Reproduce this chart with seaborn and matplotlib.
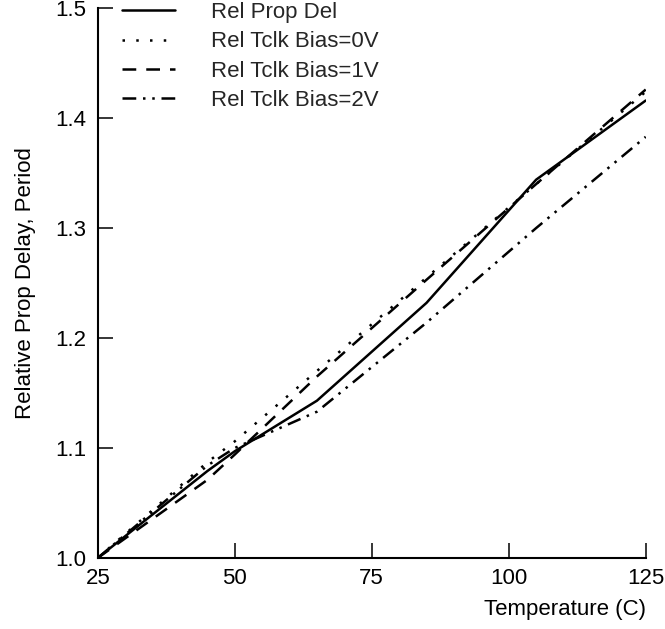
import matplotlib
matplotlib.use("Agg")
import matplotlib.pyplot as plt
import seaborn as sns
import pandas as pd

# Temperature sweep (C)
temperature = [25, 45, 50, 65, 85, 105, 125]

# Relative delay / period values, normalised to 25 C
rel_prop_del = [1.000, 1.079, 1.097, 1.143, 1.232, 1.344, 1.416]
rel_tclk_bias0 = [1.000, 1.087, 1.106, 1.170, 1.255, 1.340, 1.424]
rel_tclk_bias1 = [1.000, 1.071, 1.094, 1.165, 1.253, 1.340, 1.426]
rel_tclk_bias2 = [1.000, 1.084, 1.100, 1.133, 1.214, 1.300, 1.383]

series_names = ["Rel Prop Del", "Rel Tclk Bias=0V", "Rel Tclk Bias=1V", "Rel Tclk Bias=2V"]
series_values = [rel_prop_del, rel_tclk_bias0, rel_tclk_bias1, rel_tclk_bias2]

x_ticks = [25, 50, 75, 100, 125]
y_ticks = [1.0, 1.1, 1.2, 1.3, 1.4, 1.5]

sns.set_theme(style="white")
plt.rcParams["font.family"] = ["Liberation Sans", "DejaVu Sans"]

FS = 16
LW = 1.8

fig = plt.figure(figsize=(6.65, 6.29), dpi=100)
ax = fig.add_axes([0.147, 0.113, 0.824, 0.874])

styles = ["-", (0, (1, 4.5)), (0, (5.5, 4)), (0, (5.5, 2.7, 1, 2.7, 1, 2.7))]

for name, vals, ls in zip(series_names, series_values, styles):
    df = pd.DataFrame({"Temperature": temperature, "Value": vals})
    sns.lineplot(data=df, x="Temperature", y="Value", ax=ax, color="black",
                 linewidth=LW, linestyle=ls, label=name)

ax.set_xlim(25, 125)
ax.set_ylim(1.0, 1.5)
ax.set_xticks(x_ticks)
ax.set_xticklabels([str(t) for t in x_ticks])
ax.set_yticks(y_ticks)
ax.set_yticklabels([f"{t:.1f}" for t in y_ticks])

for side in ["top", "right"]:
    ax.spines[side].set_visible(False)
for side in ["left", "bottom"]:
    ax.spines[side].set_linewidth(1.5)
    ax.spines[side].set_color("black")

ax.tick_params(axis="both", which="major", bottom=True, left=True,
               direction="in", length=11, width=1.1, colors="black",
               labelsize=FS)
ax.tick_params(axis="x", pad=7)
ax.tick_params(axis="y", pad=8)

ax.set_xlabel("Temperature (C)", fontsize=FS, color="black")
ax.xaxis.set_label_coords(1.0, -0.074)
ax.xaxis.label.set_horizontalalignment("right")
ax.set_ylabel("Relative Prop Delay, Period", fontsize=FS, color="black")
ax.yaxis.set_label_coords(-0.113, 0.5)

leg = ax.legend(loc="upper left", bbox_to_anchor=(0.183, 0.997),
                bbox_transform=fig.transFigure, frameon=False, fontsize=FS,
                handlelength=2.4, handletextpad=1.6, labelspacing=0.38,
                borderaxespad=0, borderpad=0)
for line in leg.get_lines():
    line.set_linewidth(LW)

fig.savefig("out.png", dpi=100, facecolor="white")
